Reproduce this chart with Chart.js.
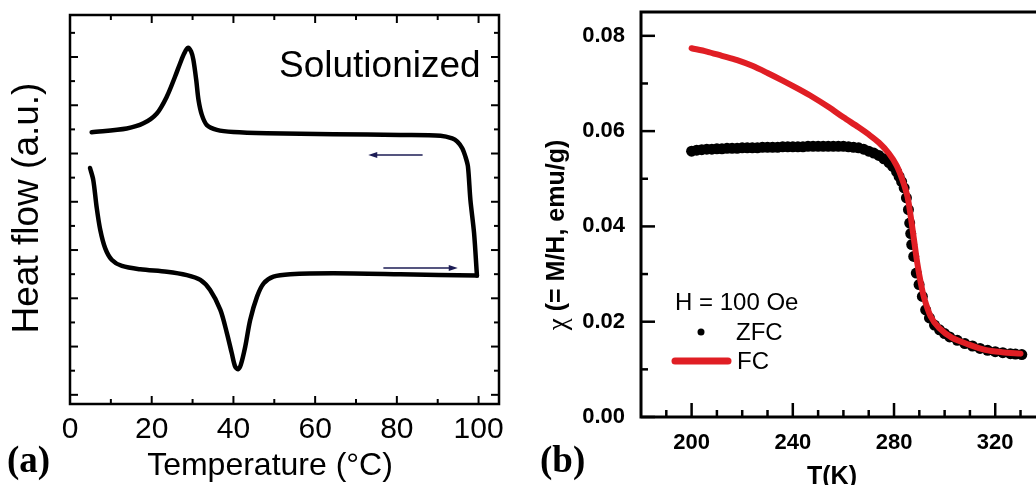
<!DOCTYPE html>
<html>
<head>
<meta charset="utf-8">
<script src="https://cdn.jsdelivr.net/npm/chart.js@4.4.1/dist/chart.umd.min.js"></script>
<style>
  html, body { margin: 0; padding: 0; overflow: hidden; background: #fff; width: 1036px; height: 485px; }
  #dsc { position: absolute; left: 0; top: 0; }
  #chi { position: absolute; left: 520px; top: 0; }
</style>
</head>
<body>
<canvas id="dsc" width="520" height="485"></canvas>
<canvas id="chi" width="525" height="485"></canvas>
<script>
// (a) DSC loop, heating branch (left -> right)
const heatT = [4.9, 5.7, 6.5, 7.4, 8.6, 10.2, 12.7, 17.2, 23.7, 28.6, 31.9, 34.3, 36.8, 38.4, 39.6, 40.4, 41.1, 41.8, 42.9, 44.1, 45.8, 47.4, 49.8, 53.9, 64.5, 80.9, 99.6];
const heatQ = [4.70, 4.45, 3.90, 3.42, 3.04, 2.80, 2.67, 2.60, 2.55, 2.48, 2.38, 2.17, 1.76, 1.28, 0.86, 0.59, 0.53, 0.62, 1.00, 1.55, 2.04, 2.31, 2.45, 2.50, 2.52, 2.50, 2.47];
// cooling branch (from 100 back down to 5)
const coolT = [99.6, 98.9, 98.0, 97.4, 96.8, 96.0, 94.8, 93.55, 90.7, 80.9, 64.5, 48.2, 40.0, 35.95, 33.5, 32.27, 31.45, 30.9, 30.2, 29.66, 28.84, 27.94, 26.96, 25.7, 23.7, 21.25, 17.97, 13.9, 5.3];
const coolQ = [2.47, 3.35, 4.04, 4.73, 4.93, 5.11, 5.245, 5.314, 5.37, 5.385, 5.40, 5.42, 5.445, 5.49, 5.59, 5.80, 6.11, 6.52, 6.94, 7.11, 7.19, 7.07, 6.87, 6.59, 6.18, 5.83, 5.625, 5.52, 5.44];
const dscXMajor = [0, 20, 40, 60, 80, 100];
const dscXMinor = [10, 30, 50, 70, 90];
const dscYMajor = [0, 1, 2, 3, 4, 5, 6, 7];
const dscYMinor = [0.5, 1.5, 2.5, 3.5, 4.5, 5.5, 6.5, 7.5];

// (b) susceptibility
const zfcT = [200, 202, 204, 206, 208, 210, 212, 214, 216, 218, 220, 222, 224, 226, 228, 230, 232, 234, 236, 238, 240, 242, 244, 246, 248, 250, 252, 254, 256, 258, 260, 262, 264, 266, 268, 270, 272, 274, 276, 278, 279.5, 281, 282, 283, 284, 284.9, 285.7, 286.2, 286.6, 287.0, 287.8, 288.8, 289.9, 291.2, 292.5, 294, 296, 298, 300, 302, 305, 308, 311, 314, 317, 320, 323, 326, 328, 330.5];
const zfcChi = [0.0558, 0.0560, 0.0561, 0.0562, 0.0562, 0.0563, 0.0563, 0.0564, 0.0564, 0.0564, 0.0565, 0.0565, 0.0565, 0.0565, 0.0566, 0.0566, 0.0566, 0.0566, 0.0567, 0.0567, 0.0567, 0.0567, 0.0567, 0.0568, 0.0568, 0.0568, 0.0568, 0.0568, 0.0568, 0.0568, 0.0568, 0.0567, 0.0566, 0.0565, 0.0562, 0.0558, 0.0554, 0.0549, 0.0542, 0.0534, 0.0526, 0.0515, 0.0505, 0.0494, 0.0481, 0.0460, 0.0435, 0.0407, 0.0385, 0.0362, 0.0337, 0.0302, 0.0278, 0.0253, 0.0225, 0.0208, 0.0193, 0.0183, 0.0175, 0.0168, 0.0161, 0.0154, 0.0149, 0.0144, 0.0140, 0.0137, 0.0135, 0.0133, 0.0132, 0.0131];
const fcT = [200, 206, 212, 218, 224, 230, 236, 242, 248, 254, 260, 266, 270, 274, 278, 281, 283.3, 285.3, 286.6, 287.9, 289.2, 290.6, 291.9, 294.5, 297.8, 303, 309.6, 316, 322.7, 330];
const fcChi = [0.0774, 0.0767, 0.0758, 0.0749, 0.0737, 0.0722, 0.0706, 0.0689, 0.0671, 0.0651, 0.0629, 0.0608, 0.0593, 0.0576, 0.0553, 0.0528, 0.0498, 0.0463, 0.0421, 0.0372, 0.0323, 0.0281, 0.0250, 0.0211, 0.0187, 0.0166, 0.0152, 0.0141, 0.0136, 0.0133];
const chiXMajor = [200, 240, 280, 320];
const chiXMinor = [190, 210, 220, 230, 250, 260, 270, 290, 300, 310, 330];
const chiYMajor = [0, 0.02, 0.04, 0.06, 0.08];
const chiYMinor = [0.01, 0.03, 0.05, 0.07];

const pts = (xs, ys) => xs.map((x, i) => ({ x, y: ys[i] }));

Chart.defaults.font.family = "'Liberation Sans', Arial, sans-serif";
Chart.defaults.color = '#000';
Chart.defaults.animation = false;

// inward tick marks + box frame
function framePlugin(cfg) {
  return {
    id: 'frame',
    afterDatasetsDraw(chart) {
      const { ctx, chartArea: a, scales } = chart;
      ctx.save();
      ctx.strokeStyle = '#000';
      ctx.lineWidth = cfg.tickWidth;
      cfg.marks.forEach(([axis, values, len, sides]) => {
        values.forEach(v => {
          const p = scales[axis].getPixelForValue(v);
          sides.forEach(s => {
            ctx.beginPath();
            if (s === 'bottom') { ctx.moveTo(p, a.bottom); ctx.lineTo(p, a.bottom - len); }
            if (s === 'top') { ctx.moveTo(p, a.top); ctx.lineTo(p, a.top + len); }
            if (s === 'left') { ctx.moveTo(a.left, p); ctx.lineTo(a.left + len, p); }
            if (s === 'right') { ctx.moveTo(a.right, p); ctx.lineTo(a.right - len, p); }
            ctx.stroke();
          });
        });
      });
      ctx.lineWidth = cfg.frameWidth;
      ctx.strokeRect(a.left, a.top, a.right - a.left, a.bottom - a.top);
      ctx.restore();
    }
  };
}

function rotatedText(ctx, text, x, y, font) {
  ctx.save();
  ctx.translate(x, y);
  ctx.rotate(-Math.PI / 2);
  ctx.font = font;
  ctx.textAlign = 'center';
  ctx.textBaseline = 'middle';
  ctx.fillText(text, 0, 0);
  ctx.restore();
}

function arrow(ctx, x0, x1, y, color) {
  const dir = Math.sign(x1 - x0);
  ctx.save();
  ctx.strokeStyle = color;
  ctx.fillStyle = color;
  ctx.lineWidth = 1.5;
  ctx.beginPath();
  ctx.moveTo(x0, y);
  ctx.lineTo(x1 - dir * 6, y);
  ctx.stroke();
  ctx.beginPath();
  ctx.moveTo(x1, y);
  ctx.lineTo(x1 - dir * 9, y - 3);
  ctx.lineTo(x1 - dir * 9, y + 3);
  ctx.closePath();
  ctx.fill();
  ctx.restore();
}

const dscLabels = {
  id: 'dscLabels',
  afterDraw(chart) {
    const { ctx, scales: { x, y } } = chart;
    ctx.save();
    ctx.fillStyle = '#000';
    ctx.font = "37px 'Liberation Sans', Arial, sans-serif";
    ctx.textAlign = 'left';
    ctx.textBaseline = 'alphabetic';
    ctx.fillText('Solutionized', 279, 77);
    ctx.font = "32px 'Liberation Sans', Arial, sans-serif";
    ctx.textAlign = 'center';
    ctx.textBaseline = 'middle';
    ctx.fillText('Temperature (°C)', 270, 466);
    ctx.font = "bold 37px 'Liberation Serif', 'Times New Roman', serif";
    ctx.textAlign = 'left';
    ctx.textBaseline = 'alphabetic';
    ctx.fillText('(a)', 7, 472);
    rotatedText(ctx, 'Heat flow (a.u.)', 27.5, 208, "37px 'Liberation Sans', Arial, sans-serif");
    arrow(ctx, x.getPixelForValue(86.3), x.getPixelForValue(73.0), y.getPixelForValue(4.97), '#1c1c55');
    arrow(ctx, x.getPixelForValue(76.7), x.getPixelForValue(94.9), y.getPixelForValue(2.63), '#1c1c55');
    ctx.restore();
  }
};

new Chart(document.getElementById('dsc'), {
  type: 'scatter',
  data: {
    datasets: [
      { label: 'heating', data: pts(heatT, heatQ) },
      { label: 'cooling', data: pts(coolT, coolQ) }
    ]
  },
  options: {
    responsive: false,
    layout: { padding: { top: 15, right: 21, bottom: 0, left: 0 } },
    elements: {
      line: { borderColor: '#000', borderWidth: 4.5, tension: 0.3, borderCapStyle: 'round', borderJoinStyle: 'round' },
      point: { radius: 0 }
    },
    datasets: { scatter: { showLine: true } },
    plugins: { legend: { display: false }, tooltip: { enabled: false } },
    scales: {
      x: {
        type: 'linear', min: 0, max: 105,
        grid: { display: false, drawTicks: false }, border: { display: false },
        ticks: { font: { size: 30 }, padding: 8 },
        afterBuildTicks: s => { s.ticks = dscXMajor.map(v => ({ value: v })); },
        afterFit: s => { s.height = 81; }
      },
      y: {
        type: 'linear', min: -0.19, max: 7.87,
        grid: { display: false, drawTicks: false }, border: { display: false },
        ticks: { display: false },
        afterFit: s => { s.width = 70; }
      }
    }
  },
  plugins: [framePlugin({
    tickWidth: 2, frameWidth: 2.5,
    marks: [
      ['x', dscXMajor, 8, ['bottom', 'top']],
      ['x', dscXMinor, 5, ['bottom', 'top']],
      ['y', dscYMajor, 8, ['left', 'right']],
      ['y', dscYMinor, 5, ['left', 'right']]
    ]
  }), dscLabels]
});

const chiLabels = {
  id: 'chiLabels',
  afterDraw(chart) {
    const { ctx } = chart;
    ctx.save();
    ctx.fillStyle = '#000';
    ctx.font = "24px 'Liberation Sans', Arial, sans-serif";
    ctx.textAlign = 'left';
    ctx.textBaseline = 'middle';
    ctx.fillText('H = 100 Oe', 155, 303);
    ctx.fillText('ZFC', 216, 333);
    ctx.fillText('FC', 217, 362);
    ctx.beginPath();
    ctx.arc(181, 332, 3.5, 0, Math.PI * 2);
    ctx.fill();
    ctx.strokeStyle = '#e01e24';
    ctx.lineWidth = 7;
    ctx.lineCap = 'round';
    ctx.beginPath();
    ctx.moveTo(155, 361);
    ctx.lineTo(208, 361);
    ctx.stroke();
    ctx.font = "bold 25px 'Liberation Sans', Arial, sans-serif";
    ctx.textAlign = 'center';
    ctx.textBaseline = 'alphabetic';
    ctx.fillText('T(K)', 312, 484);
    // y title: serif chi followed by bold sans text, rotated
    ctx.save();
    ctx.translate(37, 235);
    ctx.rotate(-Math.PI / 2);
    ctx.textBaseline = 'middle';
    ctx.textAlign = 'left';
    const rest = ' (= M/H, emu/g)';
    const chiFont = "27px 'Liberation Serif', 'Times New Roman', serif";
    const restFont = "bold 25px 'Liberation Sans', Arial, sans-serif";
    ctx.font = chiFont;
    const wChi = ctx.measureText('χ').width;
    ctx.font = restFont;
    const wRest = ctx.measureText(rest).width;
    const x0 = -(wChi + wRest) / 2;
    ctx.font = chiFont;
    ctx.fillText('χ', x0, 2);
    ctx.font = restFont;
    ctx.fillText(rest, x0 + wChi, 0);
    ctx.restore();
    ctx.font = "bold 37px 'Liberation Serif', 'Times New Roman', serif";
    ctx.textAlign = 'left';
    ctx.textBaseline = 'alphabetic';
    ctx.fillText('(b)', 20, 472);
    ctx.restore();
  }
};

new Chart(document.getElementById('chi'), {
  type: 'scatter',
  data: {
    datasets: [
      { label: 'FC', data: pts(fcT, fcChi), showLine: true, borderColor: '#e01e24', borderWidth: 6,
        tension: 0.3, borderCapStyle: 'round', pointRadius: 0 },
      { label: 'ZFC', data: pts(zfcT, zfcChi), showLine: false, pointRadius: 5.5,
        pointBackgroundColor: '#000', pointBorderWidth: 0 }
    ]
  },
  options: {
    responsive: false,
    layout: { padding: { top: 12, right: 4, bottom: 0, left: 0 } },
    plugins: { legend: { display: false }, tooltip: { enabled: false } },
    scales: {
      x: {
        type: 'linear', min: 180, max: 337.5,
        grid: { display: false, drawTicks: false }, border: { display: false },
        ticks: { font: { size: 22, weight: 'bold' }, padding: 13 },
        afterBuildTicks: s => { s.ticks = chiXMajor.map(v => ({ value: v })); },
        afterFit: s => { s.height = 68; s.paddingLeft = 0; s.paddingRight = 0; }
      },
      y: {
        type: 'linear', min: 0, max: 0.085,
        grid: { display: false, drawTicks: false }, border: { display: false },
        ticks: { font: { size: 22, weight: 'bold' }, padding: 16, callback: v => v.toFixed(2) },
        afterBuildTicks: s => { s.ticks = chiYMajor.map(v => ({ value: v })); },
        afterFit: s => { s.width = 121; s.paddingTop = 0; s.paddingBottom = 0; }
      }
    }
  },
  plugins: [framePlugin({
    tickWidth: 2.5, frameWidth: 3,
    marks: [
      ['x', chiXMajor, 14, ['bottom']],
      ['x', chiXMinor, 7, ['bottom']],
      ['y', chiYMajor, 14, ['left']],
      ['y', chiYMinor, 7, ['left']]
    ]
  }), chiLabels]
});
</script>
</body>
</html>
